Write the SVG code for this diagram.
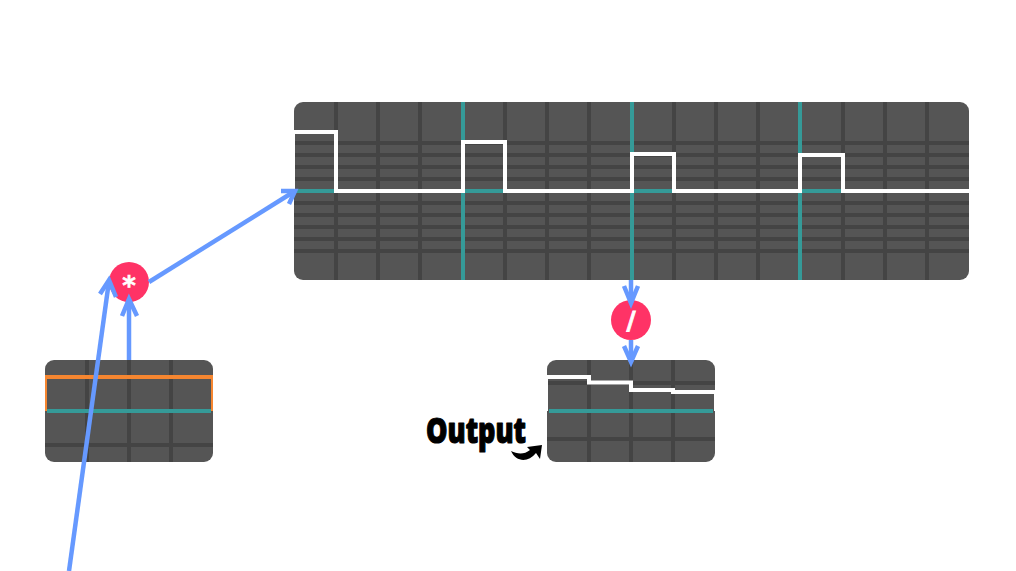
<svg xmlns="http://www.w3.org/2000/svg" width="1016" height="571" viewBox="0 0 1016 571">
<defs>
<clipPath id="clip-large"><rect x="294" y="102" width="675" height="178" rx="9"/></clipPath>
<clipPath id="clip-left"><rect x="45" y="360" width="168" height="102" rx="9"/></clipPath>
<clipPath id="clip-output"><rect x="547" y="360" width="168" height="102" rx="9"/></clipPath>
</defs>
<style>
.panel{fill:#555}
.grid{stroke:#444;stroke-width:4;fill:none}
.teal{stroke:#359a98;stroke-width:4;fill:none}
.sig{stroke:#fff;stroke-width:4;fill:none;stroke-linejoin:miter}
.orange{stroke:#f68630;stroke-width:4;fill:none}
.conn{stroke:#6699ff;stroke-width:4.500;fill:none}
.op{fill:#ff3366}
.opt{fill:#fff;stroke:#fff;font-family:"DejaVu Sans",sans-serif;font-weight:700;text-anchor:middle}
</style>
<rect width="1016" height="571" fill="#fff"/>
<g id="chart-large" clip-path="url(#clip-large)">
<rect class="panel" x="294" y="102" width="675" height="178"/>
<path class="grid" d="M336 102V280M378 102V280M420 102V280M505 102V280M547 102V280M589 102V280M674 102V280M716 102V280M758 102V280M843 102V280M885 102V280M927 102V280"/>
<path class="grid" d="M294 143H969M294 155H969M294 167H969M294 179H969M294 203H969M294 215H969M294 227H969M294 239H969M294 251H969"/>
<path class="teal" d="M463 102V280M632 102V280M800 102V280M294 191H969"/>
<path class="sig" d="M293 191V132H336V191H463V142H505V191H632V154H674V191H800V155H843V191H970"/>
</g>
<g id="chart-left" clip-path="url(#clip-left)">
<rect class="panel" x="45" y="360" width="168" height="102"/>
<path class="grid" d="M87 360V462M129 360V462M171 360V462M45 445H213"/>
<path class="orange" d="M45 411V377H213V411"/>
<path class="teal" d="M47 411H211"/>
</g>
<g id="chart-output" clip-path="url(#clip-output)">
<rect class="panel" x="547" y="360" width="168" height="102"/>
<path class="grid" d="M589 360V462M631 360V462M673 360V462M547 383H715M547 439H715"/>
<path class="sig" d="M546 411V377H589V382.500H631V390H673V392H716V411"/>
<path class="teal" d="M549 411H713"/>
</g>
<g id="op-multiply">
<circle class="op" cx="129" cy="282" r="20"/>
<text class="opt" x="129" y="295" font-size="26" stroke-width="0.600">*</text>
</g>
<g id="op-divide">
<circle class="op" cx="631" cy="320" r="20"/>
<text class="opt" x="631" y="329" font-size="25" stroke-width="0.800">/</text>
</g>
<g id="connectors">
<path class="conn" d="M69 571L109 281"/>
<path class="conn" d="M100 294L109 280L116 297"/>
<path class="conn" d="M129 360V299"/>
<path class="conn" d="M122 316L129 299L137 316"/>
<path class="conn" d="M149 282L295 191"/>
<path class="conn" d="M281 191L295 191L289 204"/>
<path class="conn" d="M631 280V303"/>
<path class="conn" d="M624 286L631 303L638 286"/>
<path class="conn" d="M631 340V362"/>
<path class="conn" d="M624 346L631 362L638 346"/>
</g>
<g id="label-output">
<text x="426" y="443" font-family="'Noto Sans',sans-serif" font-weight="900" font-size="36" textLength="100" lengthAdjust="spacingAndGlyphs" stroke="#000" stroke-width="1.200" stroke-linejoin="round">Output</text>
<path d="M511 451C517 454 524 455 530 450L527 447L542 445L540 459L536 453C528 463 516 462 511 451Z" fill="#000"/>
</g>
</svg>
